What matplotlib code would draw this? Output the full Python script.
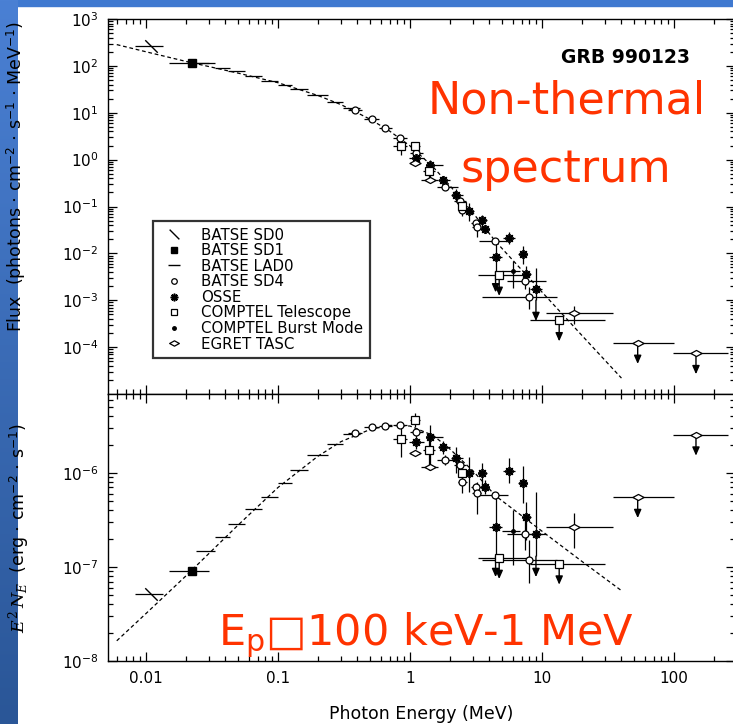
import numpy as np
import matplotlib
matplotlib.use('Agg')
import matplotlib.pyplot as plt
from matplotlib.path import Path
from matplotlib.lines import Line2D
from matplotlib.patches import Rectangle
from matplotlib.colors import LinearSegmentedColormap
from matplotlib.ticker import LogLocator, NullFormatter, FixedLocator, FixedFormatter

plt.rcParams['font.family'] = ['DejaVu Sans']
plt.rcParams['mathtext.fontset'] = 'dejavuserif'

MEV_TO_ERG = 1.602e-6

# energies in MeV, E^2 N_E in erg cm^-2 s^-1
sd0_E = [0.011]
sd0_Elo = [0.0083]
sd0_Ehi = [0.0135]
sd0_F = [5.2e-8]

sd1_E = [0.0222]
sd1_Elo = [0.0149]
sd1_Ehi = [0.030]
sd1_F = [9.1e-8]

lad_E = [0.028, 0.038, 0.048, 0.065, 0.086, 0.112, 0.145, 0.199, 0.271, 0.362]
lad_Elo = [0.0238, 0.0334, 0.0416, 0.0563, 0.0743, 0.0995, 0.1233, 0.165, 0.234, 0.313]
lad_Ehi = [0.0334, 0.0433, 0.0563, 0.0753, 0.1005, 0.127, 0.170, 0.240, 0.313, 0.418]
lad_F = [1.46e-7, 2.07e-7, 2.87e-7, 4.11e-7, 5.6e-7, 7.9e-7, 1.08e-6, 1.55e-6, 2.04e-6, 2.6e-6]

sd4_E = [0.383, 0.513, 0.647, 0.84, 1.11, 1.83, 2.39, 2.47, 3.17, 3.2, 4.41, 7.43, 8.0]
sd4_Elo = [0.34, 0.45, 0.58, 0.74, 1.0, 1.6, 2.15, 2.3, 2.9, 2.95, 3.36, 5.4, 3.49]
sd4_Ehi = [0.43, 0.58, 0.73, 0.95, 1.25, 2.3, 2.65, 2.7, 3.55, 3.45, 5.5, 10.7, 12.9]
sd4_F = [2.65e-6, 3.06e-6, 3.19e-6, 3.24e-6, 2.75e-6, 1.37e-6, 1.22e-6, 8.1e-7, 7.15e-7, 6.1e-7, 5.8e-7, 2.23e-7, 1.2e-7]
sd4_Flo = [2.55e-6, 2.95e-6, 3.08e-6, 3.12e-6, 2.5e-6, 1.2e-6, 1.1e-6, 6.1e-7, 6.5e-7, 3.7e-7, 5.3e-7, 1.5e-7, 6.7e-8]
sd4_Fhi = [2.75e-6, 3.17e-6, 3.3e-6, 3.36e-6, 3.0e-6, 1.55e-6, 1.35e-6, 1.03e-6, 7.8e-7, 8.1e-7, 6.3e-7, 3.4e-7, 1.94e-7]

osse_E = [1.12, 1.41, 1.79, 2.25, 2.8, 3.5, 3.7, 4.45, 5.6, 7.14, 7.6, 9.0]
osse_Elo = [0.98, 1.33, 1.62, 2.05, 2.6, 3.25, 3.45, 4.0, 5.1, 6.6, 7.0, 8.1]
osse_Ehi = [1.28, 1.78, 2.0, 2.5, 3.05, 3.8, 4.0, 5.0, 6.2, 7.7, 8.3, 10.0]
osse_F = [2.15e-6, 2.43e-6, 1.87e-6, 1.43e-6, 1.0e-6, 9.9e-7, 7.15e-7, 2.64e-7, 1.06e-6, 7.77e-7, 3.4e-7, 2.23e-7]
osse_Flo = [1.8e-6, 1.08e-6, 1.6e-6, 1.0e-6, 6.3e-7, 6.6e-7, 6.0e-7, 1.3e-7, 7.8e-7, 4.76e-7, 1.94e-7, 1.3e-7]
osse_Fhi = [2.5e-6, 3.2e-6, 2.2e-6, 1.9e-6, 1.49e-6, 1.27e-6, 8.5e-7, 5.8e-7, 1.44e-6, 1.17e-6, 4.9e-7, 6.3e-7]
osse_ul = [0, 0, 0, 0, 0, 0, 0, 1, 0, 0, 0, 1]

comp_E = [0.851, 1.09, 1.39, 2.47, 4.74, 13.5]
comp_Elo = [0.74, 1.0, 1.25, 2.3, 3.27, 8.11]
comp_Ehi = [0.95, 1.2, 1.55, 2.65, 8.11, 30.0]
comp_F = [2.30e-6, 3.66e-6, 1.76e-6, 9.9e-7, 1.24e-7, 1.08e-7]
comp_Flo = [1.48e-6, 3.1e-6, 1.08e-6, 8.5e-7, 1.24e-7, 1.08e-7]
comp_Fhi = [3.4e-6, 4.3e-6, 2.5e-6, 1.15e-6, 1.24e-7, 1.08e-7]
comp_ul = [0, 0, 0, 0, 1, 1]

burst_E = [6.0]
burst_Elo = [4.98]
burst_Ehi = [6.8]
burst_F = [2.43e-7]
burst_Flo = [1.05e-7]
burst_Fhi = [4.0e-7]

egret_E = [1.09, 1.41, 17.6, 53.1, 146.8]
egret_Elo = [1.0, 1.22, 10.8, 34.3, 98.8]
egret_Ehi = [1.2, 1.62, 34.7, 100.5, 255.0]
egret_F = [1.62e-6, 1.15e-6, 2.64e-7, 5.51e-7, 2.54e-6]
egret_Flo = [1.62e-6, 1.15e-6, 1.58e-7, 5.51e-7, 2.54e-6]
egret_Fhi = [1.62e-6, 1.15e-6, 3.72e-7, 5.51e-7, 2.54e-6]
egret_ul = [0, 0, 0, 1, 1]

# dashed model curve
model_E = [0.006, 0.01, 0.02, 0.05, 0.1, 0.2, 0.3, 0.5, 0.7, 1.0, 1.5, 2.0, 3.0, 4.45, 10, 20, 40]
model_F = [1.64e-8, 3.2e-8, 8.0e-8, 2.8e-7, 7.0e-7, 1.5e-6, 2.15e-6, 2.9e-6, 3.2e-6, 3.15e-6,
           2.5e-6, 1.8e-6, 1.05e-6, 5.7e-7, 2.4e-7, 1.15e-7, 5.6e-8]

legend_labels = ['BATSE SD0', 'BATSE SD1', 'BATSE LAD0', 'BATSE SD4', 'OSSE',
                 'COMPTEL Telescope', 'COMPTEL Burst Mode', 'EGRET TASC']
xtick_vals = [0.01, 0.1, 1, 10, 100]
xtick_text = ['0.01', '0.1', '1', '10', '100']

# custom markers
slash = Path([(-1, 1), (1, -1)], [Path.MOVETO, Path.LINETO])
flat_diamond = Path([(-1, 0), (0, 0.55), (1, 0), (0, -0.55), (-1, 0)],
                    [Path.MOVETO, Path.LINETO, Path.LINETO, Path.LINETO, Path.CLOSEPOLY])
star = (8, 2, 0)


def draw(ax, E, Elo, Ehi, F, Flo=None, Fhi=None, ul=None, flux=False, mk=None):
    E = np.array(E); Elo = np.array(Elo); Ehi = np.array(Ehi); F = np.array(F)
    Flo = F if Flo is None else np.array(Flo)
    Fhi = F if Fhi is None else np.array(Fhi)
    s = 1.0 / (MEV_TO_ERG * E ** 2) if flux else np.ones_like(E)
    y, ylo, yhi = F * s, Flo * s, Fhi * s
    ax.errorbar(E, y, xerr=[E - Elo, Ehi - E], yerr=[y - ylo, yhi - y], fmt='none',
                ecolor='k', elinewidth=0.9, capsize=0, zorder=3)
    if mk:
        ax.plot(E, y, ls='none', zorder=4, **mk)
    if ul is not None:
        for e, v, u in zip(E, ylo, ul):
            if u:
                ax.annotate('', xy=(e, v), xytext=(0, -15), textcoords='offset points',
                            arrowprops=dict(arrowstyle='<|-,head_length=0.5,head_width=0.22',
                                            color='k', lw=1.0, shrinkA=0, shrinkB=0))


def all_sets(ax, flux):
    draw(ax, sd0_E, sd0_Elo, sd0_Ehi, sd0_F, flux=flux,
         mk=dict(marker=slash, ms=9, mec='k', mew=1.0))
    draw(ax, sd1_E, sd1_Elo, sd1_Ehi, sd1_F, flux=flux,
         mk=dict(marker='s', ms=5.5, mfc='k', mec='k'))
    draw(ax, lad_E, lad_Elo, lad_Ehi, lad_F, flux=flux)
    draw(ax, sd4_E, sd4_Elo, sd4_Ehi, sd4_F, sd4_Flo, sd4_Fhi, flux=flux,
         mk=dict(marker='o', ms=5, mfc='w', mec='k', mew=0.9))
    draw(ax, osse_E, osse_Elo, osse_Ehi, osse_F, osse_Flo, osse_Fhi, osse_ul, flux=flux,
         mk=dict(marker=star, ms=6.5, mec='k', mew=1.3))
    draw(ax, comp_E, comp_Elo, comp_Ehi, comp_F, comp_Flo, comp_Fhi, comp_ul, flux=flux,
         mk=dict(marker='s', ms=5.5, mfc='w', mec='k', mew=0.9))
    draw(ax, burst_E, burst_Elo, burst_Ehi, burst_F, burst_Flo, burst_Fhi, flux=flux,
         mk=dict(marker='o', ms=2.5, mfc='k', mec='k'))
    draw(ax, egret_E, egret_Elo, egret_Ehi, egret_F, egret_Flo, egret_Fhi, egret_ul, flux=flux,
         mk=dict(marker=flat_diamond, ms=8, mfc='w', mec='k', mew=0.9))
    mE = np.array(model_E)
    mF = np.array(model_F)
    if flux:
        mF = mF / (MEV_TO_ERG * mE ** 2)
    ax.plot(mE, mF, color='k', ls=(0, (3, 2.2)), lw=0.9, zorder=2)


def style(ax):
    ax.set_xscale('log')
    ax.set_yscale('log')
    ax.set_xlim(0.00515, 290)
    ax.xaxis.set_major_locator(LogLocator(base=10, numticks=100))
    ax.xaxis.set_minor_locator(LogLocator(base=10, subs=np.arange(2, 10), numticks=100))
    ax.yaxis.set_major_locator(LogLocator(base=10, numticks=100))
    ax.yaxis.set_minor_locator(LogLocator(base=10, subs=np.arange(2, 10), numticks=100))
    ax.xaxis.set_minor_formatter(NullFormatter())
    ax.yaxis.set_minor_formatter(NullFormatter())
    ax.tick_params(which='both', direction='in', top=True, right=True, width=0.9,
                   labelsize=11, pad=7)
    ax.tick_params(which='major', length=6.5)
    ax.tick_params(which='minor', length=3.5)
    for sp in ax.spines.values():
        sp.set_linewidth(1.0)


fig = plt.figure(figsize=(7.33, 7.24), dpi=100)

# slide background strips
bg = fig.add_axes([0, 0, 18 / 733, 1])
grad = np.linspace(0, 1, 256).reshape(-1, 1)
bg.imshow(grad, aspect='auto', cmap=LinearSegmentedColormap.from_list('b', ['#4a80d4', '#2a5697']))
bg.axis('off')
fig.add_artist(Rectangle((0, 1 - 6 / 724), 1, 6 / 724, transform=fig.transFigure,
                         color='#3f79d0', zorder=0))

ax1 = fig.add_axes([108 / 733, 1 - 394 / 724, 627 / 733, 375 / 724])
ax2 = fig.add_axes([108 / 733, 1 - 661 / 724, 627 / 733, 267 / 724])

all_sets(ax1, flux=True)
all_sets(ax2, flux=False)

style(ax1)
ax1.set_ylim(1e-5, 1e3)
ax1.yaxis.set_major_locator(FixedLocator([1e-4, 1e-3, 1e-2, 1e-1, 1, 10, 100, 1000]))
ax1.tick_params(labelbottom=False)
ax1.set_ylabel('Flux  (photons $\\cdot$ cm$^{\\mathdefault{-2}}$ $\\cdot$ s$^{\\mathdefault{-1}}$ $\\cdot$ MeV$^{\\mathdefault{-1}}$)',
               fontsize=12.5)
ax1.yaxis.set_label_coords(-0.128, 0.58)

style(ax2)
ax2.set_ylim(1e-8, 6.9e-6)
ax2.xaxis.set_major_locator(FixedLocator(xtick_vals))
ax2.xaxis.set_major_formatter(FixedFormatter(xtick_text))
ax2.set_ylabel('$E^2\\,N_E$  (erg $\\cdot$ cm$^{\\mathdefault{-2}}$ $\\cdot$ s$^{\\mathdefault{-1}}$)', fontsize=12.5)
ax2.yaxis.set_label_coords(-0.122, 0.5)
ax2.set_xlabel('Photon Energy (MeV)', fontsize=12.5)
ax2.xaxis.set_label_coords(0.5, -0.165)

# legend
handles = [
    Line2D([], [], ls='none', marker=slash, ms=7, mec='k', mew=1.0),
    Line2D([], [], ls='none', marker='s', ms=4.5, mfc='k', mec='k'),
    Line2D([], [], ls='none', marker='_', ms=8, mec='k', mew=1.0),
    Line2D([], [], ls='none', marker='o', ms=4, mfc='w', mec='k', mew=0.9),
    Line2D([], [], ls='none', marker=star, ms=5.5, mec='k', mew=1.2),
    Line2D([], [], ls='none', marker='s', ms=4.5, mfc='w', mec='k', mew=0.9),
    Line2D([], [], ls='none', marker='o', ms=2.5, mfc='k', mec='k'),
    Line2D([], [], ls='none', marker=flat_diamond, ms=7, mfc='w', mec='k', mew=0.9),
]
leg = ax1.legend(handles, legend_labels, loc='upper left', bbox_to_anchor=(0.0713, 0.462),
                 fontsize=10.8, frameon=True, fancybox=False, labelspacing=0.04,
                 handlelength=2.0, handletextpad=0.8, borderpad=0.45, borderaxespad=0)
leg.get_frame().set_edgecolor('k')
leg.get_frame().set_linewidth(1.6)

fig.text(561 / 733, 1 - 63 / 724, 'GRB 990123', fontsize=13.5, fontweight='bold',
         ha='left', va='baseline')

# red slide annotations
red = '#ff3300'
fig.text(428 / 733, 1 - 113 / 724, 'Non-thermal', fontsize=32, color=red, ha='left', va='baseline')
fig.text(566 / 733, 1 - 182 / 724, 'spectrum', fontsize=32, color=red, ha='center', va='baseline')
fig.text(218 / 733, 1 - 645 / 724, 'E$_{\\mathregular{p}}$\u25a1100 keV-1 MeV', fontsize=31,
         color=red, ha='left', va='baseline')

fig.savefig('out.png', dpi=100)
